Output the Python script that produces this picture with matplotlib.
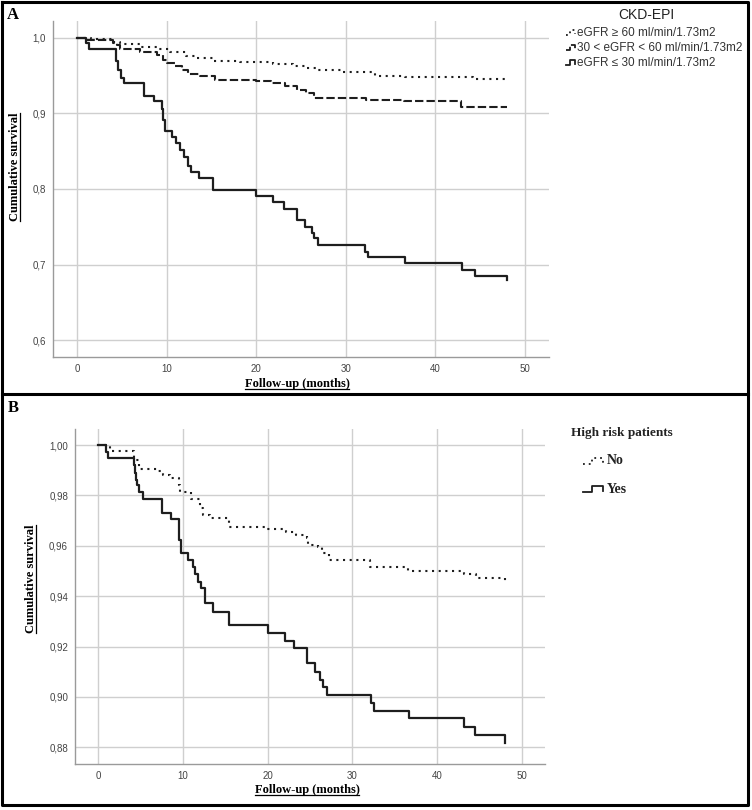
import matplotlib
matplotlib.use("Agg")
from matplotlib import pyplot as plt
from matplotlib.lines import Line2D
from matplotlib.ticker import FuncFormatter

W, H = 752, 810

# Panel A: CKD-EPI groups (months, cumulative survival)
a_hi_t = [0, 1.5, 4.0, 4.8, 7.0, 8.9, 10.4, 12.2, 13.4, 15.2,
          18.2, 21.9, 24.1, 25.6, 26.7, 29.5, 33.3, 36.6, 44.2, 48.0]
a_hi_s = [1.000, 0.998, 0.995, 0.992, 0.9885, 0.985, 0.981, 0.976, 0.973, 0.970,
          0.968, 0.966, 0.963, 0.960, 0.957, 0.955, 0.950, 0.948, 0.946, 0.946]

a_mid_t = [0, 1.0, 4.0, 4.4, 4.8, 7.0, 8.9, 9.6, 10.0, 10.9, 11.7, 12.4, 13.7, 15.4,
           20.0, 21.7, 23.2, 24.5, 25.6, 26.4, 32.3, 36.5, 42.9, 48.0]
a_mid_s = [1.000, 0.997, 0.994, 0.991, 0.985, 0.981, 0.9775, 0.971, 0.967, 0.963, 0.958, 0.952, 0.949, 0.944,
           0.943, 0.940, 0.936, 0.931, 0.927, 0.921, 0.918, 0.916, 0.909, 0.909]

a_lo_t = [0, 1.0, 1.3, 4.3, 4.6, 4.9, 5.2, 7.5, 8.6, 9.45, 9.6, 9.8,
          10.6, 11.05, 11.5, 11.9, 12.4, 12.7, 13.6, 15.2,
          20.0, 21.9, 23.1, 24.5, 25.4, 26.2, 26.4, 26.9,
          32.2, 32.5, 36.6, 43.0, 44.4, 48.0, 48.0]
a_lo_s = [1.000, 0.993, 0.985, 0.969, 0.958, 0.947, 0.940, 0.923, 0.916, 0.906, 0.891, 0.877,
          0.869, 0.861, 0.852, 0.843, 0.831, 0.822, 0.814, 0.799,
          0.791, 0.783, 0.774, 0.759, 0.750, 0.742, 0.735, 0.726,
          0.717, 0.710, 0.702, 0.693, 0.685, 0.685, 0.679]

a_labels = ["eGFR \u2265 60 ml/min/1.73m2", "30 < eGFR < 60 ml/min/1.73m2", "eGFR \u2264 30 ml/min/1.73m2"]

# Panel B: high risk patients
b_no_t = [0, 1.4, 4.3, 4.9, 7.1, 7.7, 8.5, 9.5, 9.7, 11.0,
          12.0, 12.4, 13.2, 15.4, 19.9, 22.2, 23.4, 24.6, 24.8, 26.0,
          26.4, 27.2, 32.1, 36.5, 43.2, 44.6, 48.0, 48.0]
b_no_s = [1.000, 0.9977, 0.994, 0.9907, 0.9898, 0.988, 0.9868, 0.9841, 0.9815, 0.9788,
          0.9749, 0.9722, 0.9709, 0.9676, 0.9665, 0.9656, 0.9643, 0.963, 0.9603, 0.9597,
          0.957, 0.9544, 0.9517, 0.9501, 0.9488, 0.9473, 0.9473, 0.9462]

b_yes_t = [0, 0.94, 1.2, 4.3, 4.4, 4.5, 4.6, 4.9, 5.3,
           7.5, 8.6, 9.5, 9.6, 9.8, 10.6, 11.2, 11.4, 11.8, 12.2, 12.6, 13.6, 15.4,
           20.0, 22.0, 23.1, 24.7, 25.6, 26.2, 26.5, 27.0,
           32.2, 32.5, 36.7, 43.1, 44.5, 48.0, 48.0]
b_yes_s = [1.000, 0.9973, 0.9947, 0.992, 0.9888, 0.986, 0.984, 0.9815, 0.9786,
           0.9731, 0.9706, 0.9676, 0.9623, 0.957, 0.9544, 0.9517, 0.9488, 0.9458, 0.9431, 0.9375, 0.9339, 0.9286,
           0.9253, 0.9224, 0.9193, 0.9134, 0.910, 0.9067, 0.9038, 0.9008,
           0.8975, 0.8946, 0.8915, 0.8882, 0.8849, 0.8849, 0.8819]

b_labels = ["No", "Yes"]

x_ticks = [0, 10, 20, 30, 40, 50]
a_yticks = [0.6, 0.7, 0.8, 0.9, 1.0]
b_yticks = [0.88, 0.90, 0.92, 0.94, 0.96, 0.98, 1.00]

LINE = "#1e1e1e"
DOT = (0, (1, 2.2))
DASH = (0, (4, 1.5))
SERIF = "Liberation Serif"
SANS = "Liberation Sans"


def fx(x):
    return x / W


def fy(y):
    return 1 - y / H


def box(left, top, right, bottom):
    return [fx(left), fy(bottom), fx(right - left), (bottom - top) / H]


def style_axes(ax, yticks, ndec, ylim):
    ax.set_xlim(-2.7, 52.7)
    ax.set_ylim(*ylim)
    ax.set_xticks(x_ticks)
    ax.set_yticks(yticks)
    ax.yaxis.set_major_formatter(FuncFormatter(lambda v, p: f"{v:.{ndec}f}".replace(".", ",")))
    ax.grid(True, color="#cfcfcf", lw=1.0)
    ax.set_axisbelow(True)
    for side in ["top", "right"]:
        ax.spines[side].set_visible(False)
    for side in ["left", "bottom"]:
        ax.spines[side].set_color("#9a9a9a")
        ax.spines[side].set_linewidth(1.0)
    ax.tick_params(length=0, labelsize=7, labelcolor="#444444", pad=5)
    for lab in ax.get_xticklabels() + ax.get_yticklabels():
        lab.set_fontfamily(SANS)


fig = plt.figure(figsize=(W / 100, H / 100), dpi=100)

axA = fig.add_axes(box(53, 21, 549, 357))
axA.step(a_hi_t, a_hi_s, where="post", color=LINE, lw=1.5, ls=DOT)
axA.step(a_mid_t, a_mid_s, where="post", color=LINE, lw=1.5, ls=DASH)
axA.step(a_lo_t, a_lo_s, where="post", color=LINE, lw=1.6)
style_axes(axA, a_yticks, 1, (0.5775, 1.0225))

axB = fig.add_axes(box(75, 429, 545, 764))
axB.step(b_no_t, b_no_s, where="post", color=LINE, lw=1.5, ls=DOT)
axB.step(b_yes_t, b_yes_s, where="post", color=LINE, lw=1.6)
style_axes(axB, b_yticks, 2, (0.8734, 1.0064))

# frames
frame = dict(color="black", lw=2.2, transform=fig.transFigure, solid_capstyle="projecting")
fig.add_artist(Line2D([fx(2), fx(748), fx(748), fx(2), fx(2)], [fy(2), fy(2), fy(805), fy(805), fy(2)], **frame))
fig.add_artist(Line2D([fx(2), fx(748)], [fy(394), fy(394)], **frame))

# panel letters
fig.text(fx(13), fy(15), "A", family=SERIF, weight="bold", size=12, ha="center", va="center")
fig.text(fx(13), fy(408), "B", family=SERIF, weight="bold", size=12, ha="center", va="center")

# axis titles (bold serif, underlined)
titles = []
titles.append(fig.text(fx(15), fy(167), "Cumulative survival", rotation=90, family=SERIF,
                       weight="bold", size=9, ha="center", va="center"))
titles.append(fig.text(fx(297), fy(384), "Follow-up (months)", family=SERIF,
                       weight="bold", size=9, ha="center", va="center"))
titles.append(fig.text(fx(31), fy(579), "Cumulative survival", rotation=90, family=SERIF,
                       weight="bold", size=9, ha="center", va="center"))
titles.append(fig.text(fx(307), fy(790), "Follow-up (months)", family=SERIF,
                       weight="bold", size=9, ha="center", va="center"))

# legend A
fig.text(fx(646), fy(15), "CKD-EPI", family=SANS, size=10, color="#222222", ha="center", va="center")
a_styles = [DOT, DASH, "-"]
a_rows = [33, 48, 63]
for lab, st, yy in zip(a_labels, a_styles, a_rows):
    hx = [566, 570, 570, 575, 575]
    hy = [yy + 2, yy + 2, yy - 3, yy - 3, yy + 1]
    fig.add_artist(Line2D([fx(v) for v in hx], [fy(v) for v in hy], color=LINE, lw=1.3, ls=st,
                          transform=fig.transFigure))
    fig.text(fx(577), fy(yy), lab, family=SANS, size=8.5, color="#333333", ha="left", va="center")

# legend B
fig.text(fx(571), fy(433), "High risk patients", family=SERIF, weight="bold", size=9.5,
         color="#222222", ha="left", va="center")
b_styles = [DOT, "-"]
b_rows = [461, 489]
for lab, st, yy in zip(b_labels, b_styles, b_rows):
    hx = [583, 592, 592, 603, 603]
    hy = [yy + 3, yy + 3, yy - 3, yy - 3, yy + 2]
    fig.add_artist(Line2D([fx(v) for v in hx], [fy(v) for v in hy], color=LINE, lw=1.3, ls=st,
                          transform=fig.transFigure))
    fig.text(fx(607), fy(yy), lab, family=SERIF, weight="bold", size=10, color="#222222",
             ha="left", va="center")

# underline the axis titles
fig.canvas.draw()
rend = fig.canvas.get_renderer()
for t in titles:
    bb = t.get_window_extent(rend)
    if t.get_rotation() == 90:
        xx = (bb.x1 - 1) / W
        fig.add_artist(Line2D([xx, xx], [bb.y0 / H, bb.y1 / H], color="black", lw=0.9,
                              transform=fig.transFigure))
    else:
        yy = (bb.y0 + 1) / H
        fig.add_artist(Line2D([bb.x0 / W, bb.x1 / W], [yy, yy], color="black", lw=0.9,
                              transform=fig.transFigure))

fig.savefig("out.png", dpi=100)
